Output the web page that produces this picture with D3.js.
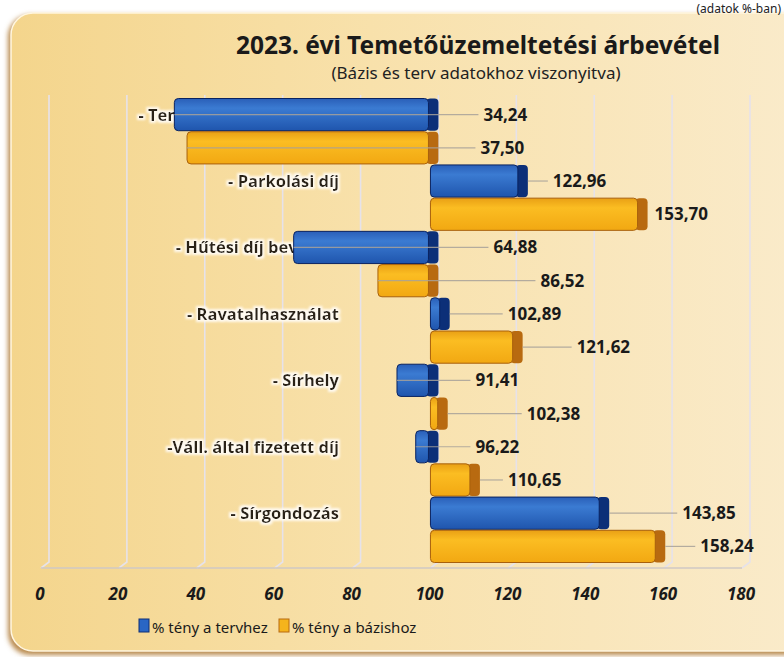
<!DOCTYPE html>
<html>
<head>
<meta charset="utf-8">
<script src="https://cdn.jsdelivr.net/npm/d3@7"></script>
<style>
  body { margin: 0; background: #fff; }
  svg { display: block; }
</style>
</head>
<body>
<div id="chart"></div>
<script>
// data
var categories = ["- Temetőfennt. hozzájár.", "- Parkolási díj", "- Hűtési díj bevétele",
  "- Ravatalhasználat", "- Sírhely", "-Váll. által fizetett díj", "- Sírgondozás"];
var tervhez = [34.24, 122.96, 64.88, 102.89, 91.41, 96.22, 143.85];
var bazishoz = [37.50, 153.70, 86.52, 121.62, 102.38, 110.65, 158.24];
var xTicks = [0, 20, 40, 60, 80, 100, 120, 140, 160, 180];
var seriesNames = ["% tény a tervhez", "% tény a bázishoz"];

// label nudges (px right of the bar end) so labels sit like in the original
var gapTerv = [45, 25, 55, 58, 37, 37, 73];
var gapBazis = [42, 7, 102, 54, 79, 28, 35];

var W = 784, H = 657;
var depth = 8;

var svg = d3.select("#chart").append("svg")
  .attr("width", W).attr("height", H);

var defs = svg.append("defs");

var bg = defs.append("linearGradient").attr("id", "bg")
  .attr("x1", 0).attr("x2", 1).attr("y1", 0).attr("y2", 0);
bg.append("stop").attr("offset", "0%").attr("stop-color", "#f4d58c");
bg.append("stop").attr("offset", "45%").attr("stop-color", "#f8e1ab");
bg.append("stop").attr("offset", "100%").attr("stop-color", "#faebcb");

var gBlue = defs.append("linearGradient").attr("id", "gBlue")
  .attr("x1", 0).attr("x2", 0).attr("y1", 0).attr("y2", 1);
gBlue.append("stop").attr("offset", "0%").attr("stop-color", "#2a5fb8");
gBlue.append("stop").attr("offset", "30%").attr("stop-color", "#3b7bd2");
gBlue.append("stop").attr("offset", "100%").attr("stop-color", "#1f55ad");

var gYel = defs.append("linearGradient").attr("id", "gYel")
  .attr("x1", 0).attr("x2", 0).attr("y1", 0).attr("y2", 1);
gYel.append("stop").attr("offset", "0%").attr("stop-color", "#e9a015");
gYel.append("stop").attr("offset", "30%").attr("stop-color", "#fbbd22");
gYel.append("stop").attr("offset", "100%").attr("stop-color", "#f2a812");

var blur = defs.append("filter").attr("id", "blur")
  .attr("x", "-10%").attr("y", "-10%").attr("width", "120%").attr("height", "120%");
blur.append("feGaussianBlur").attr("stdDeviation", 2.5);

var glow = defs.append("filter").attr("id", "glow")
  .attr("x", "-10%").attr("y", "-30%").attr("width", "120%").attr("height", "160%");
glow.append("feMorphology").attr("in", "SourceAlpha").attr("operator", "dilate").attr("radius", 1.5).attr("result", "d");
glow.append("feGaussianBlur").attr("in", "d").attr("stdDeviation", 1.2).attr("result", "b");
glow.append("feFlood").attr("flood-color", "#fffaf0");
glow.append("feComposite").attr("in2", "b").attr("operator", "in").attr("result", "w");
var mg = glow.append("feMerge");
mg.append("feMergeNode").attr("in", "w");
mg.append("feMergeNode").attr("in", "SourceGraphic");

// panel
svg.append("rect")
  .attr("x", 8).attr("y", 15).attr("width", 800).attr("height", 640)
  .attr("rx", 22).attr("fill", "#b98a4e").attr("filter", "url(#blur)");
svg.append("rect")
  .attr("x", 11).attr("y", 13).attr("width", 800).attr("height", 638)
  .attr("rx", 22).attr("fill", "url(#bg)")
  .attr("stroke", "#fff6e0").attr("stroke-width", 1.5);

// top-right note
svg.append("text")
  .attr("x", 781).attr("y", 13)
  .attr("text-anchor", "end")
  .style("font-family", "Noto Sans, sans-serif")
  .style("font-size", "12px")
  .attr("fill", "#222")
  .text("(adatok %-ban)");

// title
svg.append("text")
  .attr("x", 478).attr("y", 54)
  .attr("text-anchor", "middle")
  .style("font-family", "Noto Sans, sans-serif")
  .style("font-weight", "bold")
  .style("font-size", "24.5px")
  .attr("fill", "#1a1a1a")
  .text("2023. évi Temetőüzemeltetési árbevétel");
svg.append("text")
  .attr("x", 476).attr("y", 79)
  .attr("text-anchor", "middle")
  .style("font-family", "Noto Sans, sans-serif")
  .style("font-size", "17px")
  .attr("fill", "#222")
  .text("(Bázis és terv adatokhoz viszonyitva)");

// scales
var x = d3.scaleLinear().domain([0, 180]).range([49, 750]);
var y = d3.scaleBand().domain(categories).range([98, 563]).padding(0);
var sub = d3.scaleBand().domain([0, 1]).range([0, y.bandwidth()]).padding(0);

var plotTop = 95, plotBottom = 562, floorY = 568;

// gridlines (back wall + floor)
var grid = svg.append("g");
grid.selectAll("path").data(xTicks).enter().append("path")
  .attr("d", function (d) {
    return "M" + x(d) + "," + plotTop + "V" + plotBottom + "L" + (x(d) - depth) + "," + floorY;
  })
  .attr("fill", "none")
  .attr("stroke", "#e6e2ea")
  .attr("stroke-width", 1.6);
grid.append("line")
  .attr("x1", x(0) - depth).attr("x2", x(180) - depth)
  .attr("y1", floorY).attr("y2", floorY)
  .attr("stroke", "#cfc9c4").attr("stroke-width", 1.6);

// x tick labels
svg.append("g").selectAll("text").data(xTicks).enter().append("text")
  .attr("x", function (d) { return x(d) - 9; })
  .attr("y", 600)
  .attr("text-anchor", "middle")
  .style("font-family", "Open Sans, sans-serif")
  .style("font-weight", "bold")
  .style("font-style", "italic")
  .style("font-size", "17px")
  .attr("fill", "#1a1a1a")
  .text(function (d) { return d; });

// category labels (behind the bars, like in the original)
svg.append("g").selectAll("text").data(categories).enter().append("text")
  .attr("x", 339)
  .attr("y", function (d) { return y(d) + sub.bandwidth() / 2 + 6; })
  .attr("text-anchor", "end")
  .attr("filter", "url(#glow)")
  .style("font-family", "Open Sans, sans-serif")
  .style("font-weight", "bold")
  .style("font-size", "16.5px")
  .attr("fill", "#2a2218")
  .text(function (d) { return d; });

// bars
var rows = [];
categories.forEach(function (c, i) {
  rows.push({ cat: c, s: 0, v: tervhez[i], gap: gapTerv[i] });
  rows.push({ cat: c, s: 1, v: bazishoz[i], gap: gapBazis[i] });
});

var front = { 0: "url(#gBlue)", 1: "url(#gYel)" };
var side = { 0: "#0c2f78", 1: "#b86a10" };
var edge = { 0: "#0a2360", 1: "#a8600c" };

var bars = svg.append("g");
var bh = sub.bandwidth() - 1;

var bg2 = bars.selectAll("g").data(rows).enter().append("g");

// side cap
bg2.append("rect")
  .attr("x", function (d) { return x(Math.max(d.v, 100)) - depth - 4; })
  .attr("y", function (d) { return y(d.cat) + sub(d.s) + 0.5; })
  .attr("width", depth + 4)
  .attr("height", bh)
  .attr("rx", 4)
  .attr("fill", function (d) { return side[d.s]; });

// front face
bg2.append("rect")
  .attr("x", function (d) { return x(Math.min(d.v, 100)) - depth; })
  .attr("y", function (d) { return y(d.cat) + sub(d.s) + 0.5; })
  .attr("width", function (d) { return Math.abs(x(d.v) - x(100)) - 2; })
  .attr("height", bh)
  .attr("rx", 4)
  .attr("fill", function (d) { return front[d.s]; })
  .attr("stroke", function (d) { return edge[d.s]; })
  .attr("stroke-width", 1);

// leader lines + value labels
var lab = svg.append("g");
rows.forEach(function (d) {
  var cy = y(d.cat) + sub(d.s) + sub.bandwidth() / 2;
  var tip = d.v < 100 ? x(d.v) - depth : x(d.v);
  var lx = x(Math.max(d.v, 100)) + d.gap;
  if (lx - 4 - tip > 12) {
    lab.append("line")
      .attr("x1", tip).attr("y1", cy)
      .attr("x2", lx - 5).attr("y2", cy)
      .attr("stroke", "#a8a29a").attr("stroke-width", 1.2)
      .attr("opacity", 0.85);
  }
  lab.append("text")
    .attr("x", lx).attr("y", cy + 6)
    .style("font-family", "Open Sans, sans-serif")
    .style("font-weight", "bold")
    .style("font-size", "17px")
    .attr("fill", "#1a1a1a")
    .text(d3.format(".2f")(d.v).replace(".", ","));
});

// legend
var legend = svg.append("g");
var legX = [139, 279];
seriesNames.forEach(function (n, i) {
  legend.append("rect")
    .attr("x", legX[i]).attr("y", 619)
    .attr("width", 10).attr("height", 13)
    .attr("fill", i === 0 ? "#2a66c4" : "#f5b41c")
    .attr("stroke", i === 0 ? "#0c2f78" : "#b86a10").attr("stroke-width", 1);
  legend.append("text")
    .attr("x", legX[i] + 13).attr("y", 633)
    .style("font-family", "Noto Sans, sans-serif")
    .style("font-size", "15px")
    .attr("fill", "#1a1a1a")
    .text(n);
});
</script>
</body>
</html>
